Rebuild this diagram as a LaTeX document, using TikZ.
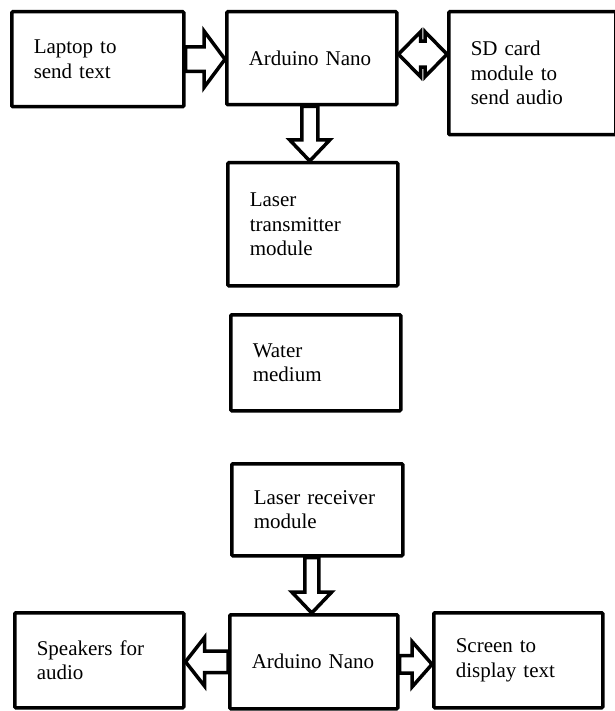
\documentclass[tikz,border=0pt]{standalone}
\usepackage{fontspec}
\setmainfont{Liberation Serif}
\usetikzlibrary{calc}
\usetikzlibrary{positioning}

\newcommand\boxfont{\fontsize{21}{24.5}\selectfont}
\def\arrshaft{10pt}
\def\arrhead{24pt}
\def\arrlen{20pt}

\tikzset{
  box/.style={draw, line width=3.5pt, rounded corners=1pt, anchor=north west,
    inner xsep=22pt, inner ysep=0pt, align=left, font=\boxfont},
  shaftw/.code={\def\arrshaft{#1}},
  headw/.code={\def\arrhead{#1}},
  headl/.code={\def\arrlen{#1}},
  blockarrow/.style={draw, line width=3.5pt, fill=white, line join=miter,
    to path={
      ($(\tikztostart)!\arrshaft!90:(\tikztotarget)$)
      -- ($($(\tikztotarget)!\arrlen!(\tikztostart)$)!\arrshaft!90:(\tikztotarget)$)
      -- ($($(\tikztotarget)!\arrlen!(\tikztostart)$)!\arrhead!90:(\tikztotarget)$)
      -- (\tikztotarget)
      -- ($($(\tikztotarget)!\arrlen!(\tikztostart)$)!\arrhead!-90:(\tikztotarget)$)
      -- ($($(\tikztotarget)!\arrlen!(\tikztostart)$)!\arrshaft!-90:(\tikztotarget)$)
      -- ($(\tikztostart)!\arrshaft!-90:(\tikztotarget)$)
      -- cycle}},
  doublearrow/.style={draw, line width=3.5pt, fill=white, line join=miter,
    to path={
      (\tikztostart)
      -- ($($(\tikztostart)!\arrlen!(\tikztotarget)$)!\arrhead!90:(\tikztotarget)$)
      -- ($($(\tikztostart)!\arrlen!(\tikztotarget)$)!\arrshaft!90:(\tikztotarget)$)
      -- ($($(\tikztotarget)!\arrlen!(\tikztostart)$)!\arrshaft!90:(\tikztotarget)$)
      -- ($($(\tikztotarget)!\arrlen!(\tikztostart)$)!\arrhead!90:(\tikztotarget)$)
      -- (\tikztotarget)
      -- ($($(\tikztotarget)!\arrlen!(\tikztostart)$)!\arrhead!-90:(\tikztotarget)$)
      -- ($($(\tikztotarget)!\arrlen!(\tikztostart)$)!\arrshaft!-90:(\tikztotarget)$)
      -- ($($(\tikztostart)!\arrlen!(\tikztotarget)$)!\arrshaft!-90:(\tikztotarget)$)
      -- ($($(\tikztostart)!\arrlen!(\tikztotarget)$)!\arrhead!-90:(\tikztotarget)$)
      -- cycle}},
}

\begin{document}
\begin{tikzpicture}[x=1pt,y=-1pt]
	\useasboundingbox (0,0) rectangle (614,711);
	\node[box, text width=128pt, minimum width=172pt, minimum height=95pt] (laptop) at (10,10) {Laptop to\\send text};
	\node[box, text width=126pt, minimum width=170pt, minimum height=93pt] (nanotx) at (225,10) {Arduino Nano};
	\node[box, text width=123pt, minimum width=167pt, minimum height=123pt] (sdcard) at (447,10) {SD card\\module to\\send audio};
	\node[box, text width=126pt, minimum width=170pt, minimum height=123pt] (ltx) at (226,161) {Laser\\transmitter\\module};
	\node[box, text width=126pt, minimum width=170pt, minimum height=96pt] (water) at (229,313) {Water\\medium};
	\node[box, text width=127pt, minimum width=171pt, minimum height=92pt] (lrx) at (230,462) {Laser receiver\\module};
	\node[box, text width=124pt, minimum width=168pt, minimum height=94pt] (nanorx) at (228,613) {Arduino Nano};
	\node[box, text width=125pt, minimum width=169pt, minimum height=95pt] (spk) at (13,611) {Speakers for\\audio};
	\node[box, text width=125pt, minimum width=169pt, minimum height=95pt] (screen) at (432,611) {Screen to\\display text};
	\draw[blockarrow, shaftw=12.25pt, headw=28.25pt, headl=21pt] (laptop.east) to (laptop.east -| nanotx.west);
	\draw[doublearrow, shaftw=13pt, headw=22.5pt, headl=22pt] ($(nanotx.east)+(0,-4)$) to ($(nanotx.east -| sdcard.west)+(0,-4)$);
	\draw[blockarrow, shaftw=8pt, headw=20pt, headl=21pt] ($(nanotx.south)+(-2,0)$) to ($(nanotx.south |- ltx.north)+(-2,0)$);
	\draw[blockarrow, shaftw=7pt, headw=20pt, headl=21pt] ($(nanorx.north |- lrx.south)+(-2,0)$) to ($(nanorx.north)+(-2,0)$);
	\draw[blockarrow, shaftw=10.75pt, headw=24.25pt, headl=19pt] (nanorx.west) to (nanorx.west -| spk.east);
	\draw[blockarrow, shaftw=8.75pt, headw=22.75pt, headl=20pt] ($(nanorx.east)+(0,2.5)$) to ($(nanorx.east -| screen.west)+(0,2.5)$);
\end{tikzpicture}
\end{document}
